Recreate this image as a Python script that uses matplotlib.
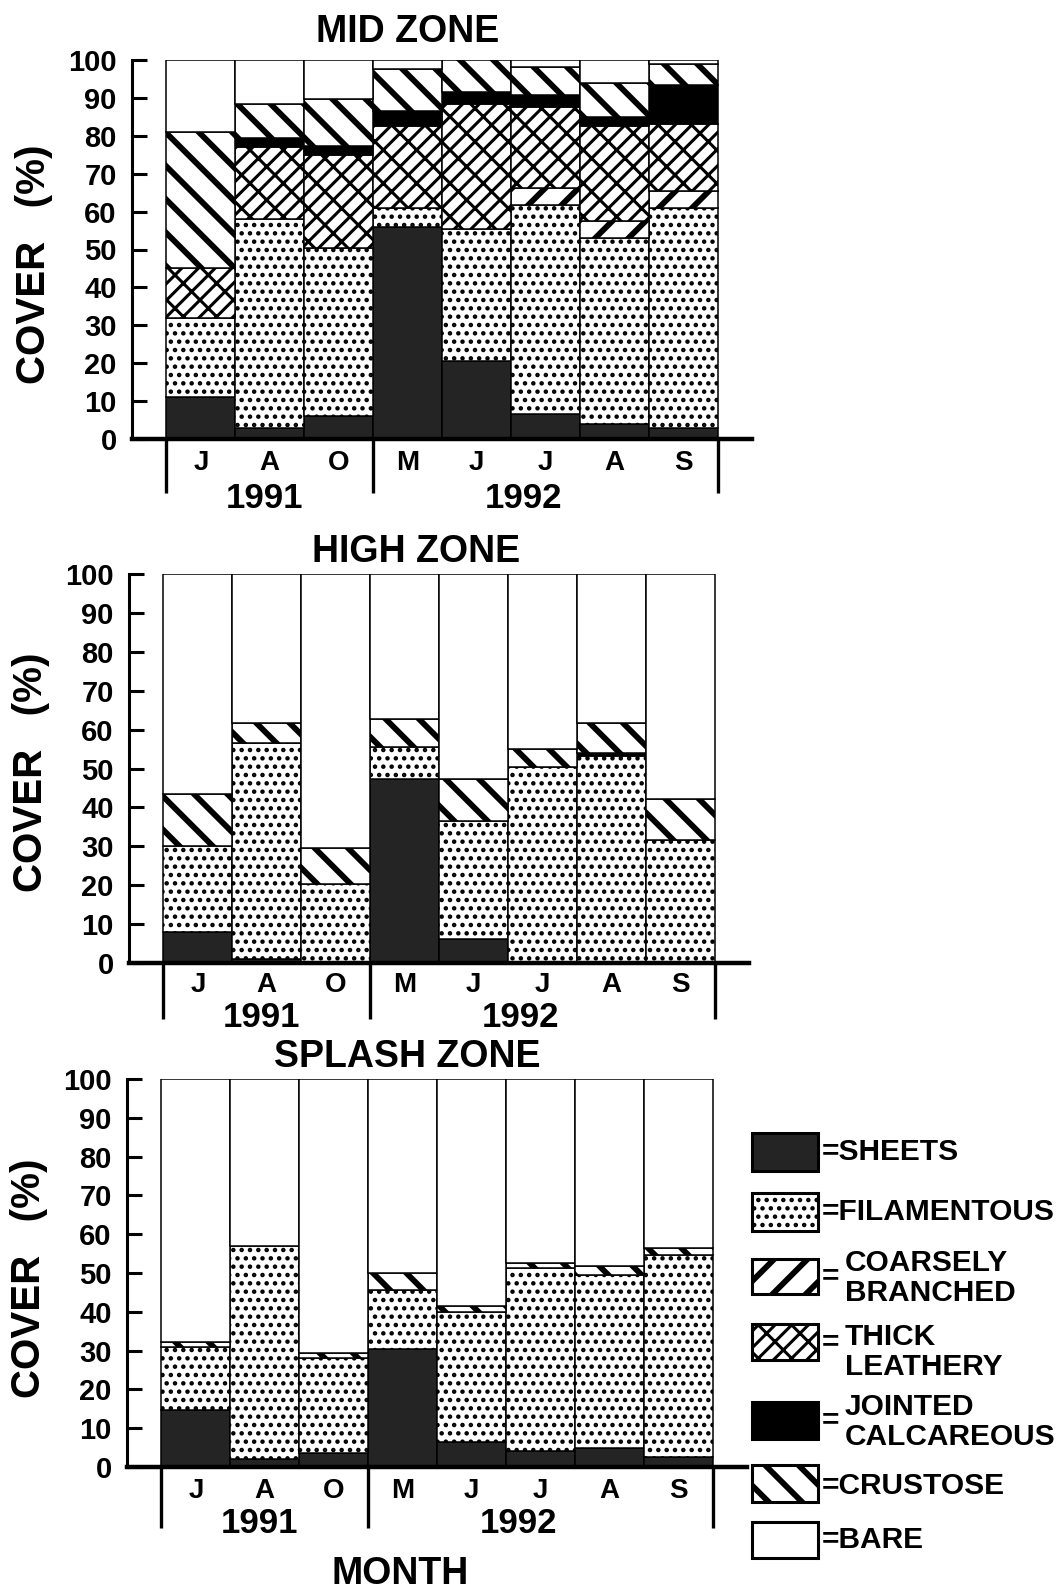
import matplotlib
matplotlib.use('Agg')  # no display
import matplotlib.pyplot as plt
from matplotlib.patches import Rectangle
import numpy as np

plt.rcParams['font.family'] = ['Liberation Sans', 'DejaVu Sans']
plt.rcParams['font.weight'] = 'bold'

months = ['J', 'A', 'O', 'M', 'J', 'J', 'A', 'S']
years = ['1991', '1992']
groups = ['SHEETS', 'FILAMENTOUS', 'COARSELY\nBRANCHED', 'THICK\nLEATHERY',
          'JOINTED\nCALCAREOUS', 'CRUSTOSE', 'BARE']

# % cover per month, listed bottom to top of each stack
mid_sheets = [11, 3, 6, 56, 20.5, 6.7, 4, 3]
mid_filamentous = [21, 55, 44.5, 5, 35, 55, 49, 58]
mid_coarsely = [0, 0, 0, 0, 0, 4.5, 4.5, 4.5]
mid_thick = [13, 19, 24.5, 21.5, 33, 21.5, 25, 17.5]
mid_jointed = [0, 2.5, 2.2, 4, 3, 3, 2.5, 10.5]
mid_crustose = [36, 9, 12.4, 11, 8.5, 7.5, 9, 5.5]
mid_bare = [19, 11.5, 10.4, 2.5, 0, 1.8, 6, 1]

high_sheets = [7.9, 1, 0, 47.3, 6.2, 0, 0, 0]
high_filamentous = [22.3, 55.5, 20.3, 8.2, 30.4, 50.3, 53.3, 31.5]
high_coarsely = [0, 0, 0, 0, 0, 0, 0, 0]
high_thick = [0, 0, 0, 0, 0, 0, 0, 0]
high_jointed = [0, 0, 0, 0, 0, 0, 0.8, 0]
high_crustose = [13.3, 5.2, 9.3, 7.3, 10.7, 4.7, 7.5, 10.7]
high_bare = [56.5, 38.3, 70.4, 37.2, 52.7, 45, 38.4, 57.8]

splash_sheets = [14.7, 2, 3.5, 30.3, 6.5, 4, 5, 2.5]
splash_filamentous = [16.3, 55, 24.5, 15.3, 33.4, 47.2, 44.5, 52.1]
splash_coarsely = [0, 0, 0, 0, 0, 0, 0, 0]
splash_thick = [0, 0, 0, 0, 0, 0, 0, 0]
splash_jointed = [0, 0, 0, 0, 0, 0, 0, 0]
splash_crustose = [1.3, 0, 1.3, 4.3, 1.6, 1.3, 2.3, 1.8]
splash_bare = [67.7, 43, 70.7, 50.1, 58.5, 47.5, 48.2, 43.6]

# fill style for each group: (facecolor, hatch, hatch linewidth)
styles = [
    ('#242424', None, 1.0),
    ('white', '..', 2.0),
    ('white', '/', 4.2),
    ('white', '//\\', 2.2),
    ('black', None, 1.0),
    ('white', '\\', 4.2),
    ('white', None, 1.0),
]

W, H = 1062, 1592
fig = plt.figure(figsize=(W / 100, H / 100), dpi=100)


def px_axes(left, top, bottom, width=620):
    return fig.add_axes([left / W, 1 - bottom / H, width / W, (bottom - top) / H])


def use_hatch_lw(patch, lw):
    # hatch width is taken from rcParams when the patch is drawn
    if hasattr(patch, 'set_hatch_linewidth'):
        patch.set_hatch_linewidth(lw)
    orig = patch.draw

    def draw(renderer):
        with plt.rc_context({'hatch.linewidth': lw}):
            orig(renderer)
    patch.draw = draw


def add_bar(ax, x, h, bottom, style):
    fc, hatch, hlw = style
    bars = ax.bar(x, h, width=1.0, bottom=bottom, align='edge', facecolor=fc,
                  edgecolor='black', linewidth=1.1, hatch=hatch)
    for p in bars:
        use_hatch_lw(p, hlw)


def draw_zone(ax, title, series, title_x, title_off, label_y, month_off,
              year_off, sep_len):
    x = np.arange(len(months))
    bottom = np.zeros(len(months))
    for vals, style in zip(series, styles):
        vals = np.array(vals, dtype=float)
        keep = vals > 0
        if keep.any():
            add_bar(ax, x[keep], vals[keep], bottom[keep], style)
        bottom += vals

    ax.set_xlim(-0.5, 8.5)
    ax.set_ylim(0, 100)
    ax.spines['top'].set_visible(False)
    ax.spines['right'].set_visible(False)
    ax.spines['left'].set_linewidth(2.2)
    ax.spines['left'].set_bounds(0, 100)
    ax.spines['bottom'].set_linewidth(3.2)
    ax.set_yticks(range(0, 101, 10))
    ax.tick_params(axis='y', direction='in', length=11, width=2.2, pad=11,
                   labelsize=21)
    ax.set_xticks([])

    ax.annotate(title, xy=(title_x, 1), xycoords=('data', 'axes fraction'),
                xytext=(0, title_off), textcoords='offset points',
                ha='center', va='center', fontsize=27, fontweight='bold')
    ax.text(-0.158, label_y, 'COVER   (%)', transform=ax.transAxes, rotation=90,
            ha='center', va='center', fontsize=29, fontweight='bold')

    xt = ax.get_xaxis_transform()
    for sx in [0, 3, 8]:
        ax.plot([sx, sx], [0, -sep_len], transform=xt, color='black',
                linewidth=2.4, clip_on=False, solid_capstyle='butt')
    for i, m in enumerate(months):
        ax.annotate(m, xy=(i + 0.5, 0), xycoords=xt, xytext=(0, -month_off),
                    textcoords='offset points', ha='center', va='center',
                    fontsize=20, fontweight='bold')
    for yx, yr in zip([1.43, 5.18], years):
        ax.annotate(yr, xy=(yx, 0), xycoords=xt, xytext=(0, -year_off),
                    textcoords='offset points', ha='center', va='center',
                    fontsize=25, fontweight='bold')


ax_mid = px_axes(132, 60, 439)
ax_high = px_axes(129, 574, 963)
ax_splash = px_axes(127, 1079, 1467)

mid = [mid_sheets, mid_filamentous, mid_coarsely, mid_thick, mid_jointed,
       mid_crustose, mid_bare]
high = [high_sheets, high_filamentous, high_coarsely, high_thick, high_jointed,
        high_crustose, high_bare]
splash = [splash_sheets, splash_filamentous, splash_coarsely, splash_thick,
          splash_jointed, splash_crustose, splash_bare]

# offsets in points (1 px = 0.72 pt)
draw_zone(ax_mid, 'MID ZONE', mid, 3.5, 20, 0.46, 17, 43, 54 / 379)
draw_zone(ax_high, 'HIGH ZONE', high, 3.67, 16, 0.49, 16, 39.2, 56 / 389)
draw_zone(ax_splash, 'SPLASH ZONE', splash, 3.57, 16, 0.487, 17.3, 40.5, 61 / 388)

ax_splash.annotate('MONTH', xy=(3.46, 0), xycoords=ax_splash.get_xaxis_transform(),
                   xytext=(0, -77), textcoords='offset points', ha='center',
                   va='center', fontsize=27, fontweight='bold')

# legend, laid out in pixel coordinates
lax = fig.add_axes([0, 0, 1, 1])
lax.set_xlim(0, W)
lax.set_ylim(H, 0)
lax.axis('off')

box_top = [1133, 1193, 1259, 1324, 1402, 1465, 1522]
box_h = [38, 38, 35, 36, 37, 37, 36]
text_y = [1152, 1212, 1278, 1352, 1422, 1486, 1540]
for name, style, top, bh, ty in zip(groups, styles, box_top, box_h, text_y):
    fc, hatch, hlw = style
    r = Rectangle((752, top), 66, bh, facecolor=fc, edgecolor='black',
                  linewidth=2.2, hatch=hatch)
    use_hatch_lw(r, hlw)
    lax.add_patch(r)
    mid_y = top + bh / 2
    if '\n' in name:
        lax.text(822, mid_y, '=', ha='left', va='center', fontsize=21.5,
                 fontweight='bold')
        lax.text(845, ty, name, ha='left', va='center', fontsize=21.5,
                 fontweight='bold', linespacing=1.05)
    else:
        lax.text(822, ty, '=' + name, ha='left', va='center', fontsize=21.5,
                 fontweight='bold')

fig.savefig('out.png', dpi=100)
